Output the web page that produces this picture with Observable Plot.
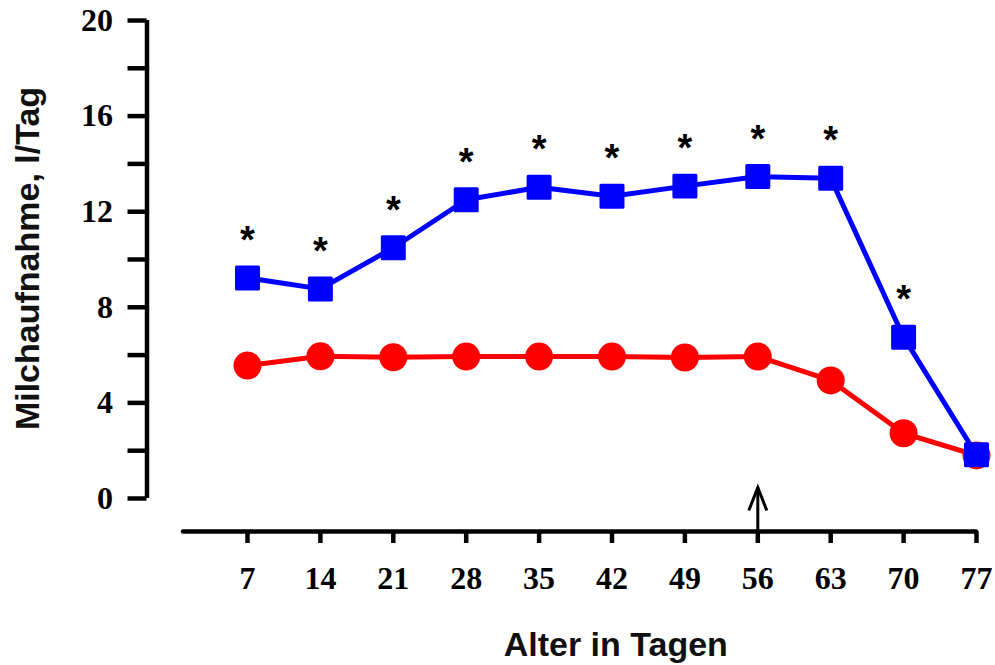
<!DOCTYPE html>
<html>
<head>
<meta charset="utf-8">
<script src="https://cdn.jsdelivr.net/npm/d3@7"></script>
<script src="https://cdn.jsdelivr.net/npm/@observablehq/plot@0.6"></script>
<style>
  html, body { margin: 0; padding: 0; background: #ffffff; }
  #chart svg { display: block; }
</style>
</head>
<body>
<div id="chart"></div>
<script>
// ---- data ----
const days = [7, 14, 21, 28, 35, 42, 49, 56, 63, 70, 77];
const blueValues = [9.23, 8.77, 10.49, 12.5, 13.02, 12.65, 13.07, 13.47, 13.4, 6.75, 1.83];
const redValues = [5.56, 5.95, 5.91, 5.94, 5.94, 5.94, 5.9, 5.94, 4.94, 2.73, 1.8];
const significantDays = [7, 14, 21, 28, 35, 42, 49, 56, 63, 70];
const arrowDays = [56];
const yTicks = [0, 2, 4, 6, 8, 10, 12, 14, 16, 18, 20];
const yLabeledTicks = [0, 4, 8, 12, 16, 20];
const xLabel = "Alter in Tagen";
const yLabel = "Milchaufnahme, l/Tag";

// ---- tables ----
const blue = days.map((d, i) => ({day: d, value: blueValues[i]}));
const red = days.map((d, i) => ({day: d, value: redValues[i]}));
const stars = blue.filter(d => significantDays.includes(d.day));

// layout constants (axis placement)
const X0 = -2.65;     // position of y-axis line in day units
const YMIN = -1.381;  // detached x-axis position below zero
const XLINE_START = 0.855;
const ARROW_TOP = 0.46;

const serif = "'Liberation Serif', 'Times New Roman', serif";
const sans = "'Liberation Sans', Arial, sans-serif";

// open chevron arrowhead symbol (tip at origin)
const chevron = {
  draw(context, size) {
    const r = Math.sqrt(size / Math.PI);
    const w = r * 9 / 23;
    context.moveTo(-w, r);
    context.lineTo(0, 0);
    context.lineTo(w, r);
  }
};

const chart = Plot.plot({
  width: 995,
  height: 665,
  marginLeft: 146.5,
  marginRight: 19,
  marginTop: 20,
  marginBottom: 134,
  x: {domain: [X0, 77], label: null},
  y: {domain: [YMIN, 20], label: null},
  style: {background: "#ffffff", overflow: "visible", color: "black"},
  marks: [
    // y axis line
    Plot.ruleX([X0], {y1: 0, y2: 20, strokeWidth: 4.5, stroke: "black"}),
    Plot.axisY(yTicks, {
      tickSize: 19, tickPadding: 15, strokeWidth: 4.5,
      tickFormat: d => yLabeledTicks.includes(d) ? String(d) : "",
      fontSize: 32, fontWeight: "bold", fontFamily: serif, label: null
    }),
    // x axis line (detached)
    Plot.ruleY([YMIN], {x1: XLINE_START, x2: 77, strokeWidth: 4.5, stroke: "black", strokeLinecap: "round"}),
    Plot.axisX(days, {
      tickSize: 12, tickPadding: 23, strokeWidth: 4.5,
      fontSize: 32, fontWeight: "bold", fontFamily: serif, label: null
    }),
    // arrow at weaning day
    Plot.ruleX(arrowDays, {x: d => d, y1: YMIN, y2: ARROW_TOP, strokeWidth: 3, stroke: "black"}),
    Plot.dot(arrowDays, {x: d => d, y: () => ARROW_TOP, symbol: chevron, r: 23, fill: "none", stroke: "black", strokeWidth: 3, strokeLinejoin: "miter"}),
    // red series
    Plot.line(red, {x: "day", y: "value", stroke: "#ff0000", strokeWidth: 5}),
    Plot.dot(red, {x: "day", y: "value", r: 14, fill: "#ff0000", stroke: "none"}),
    // blue series
    Plot.line(blue, {x: "day", y: "value", stroke: "#0000ff", strokeWidth: 5}),
    Plot.dot(blue, {x: "day", y: "value", symbol: "square", r: 12.4, fill: "#0000ff", stroke: "#0000ff", strokeWidth: 3, strokeLinejoin: "round"}),
    // significance stars
    Plot.text(stars, {x: "day", y: "value", text: () => "*", dy: -25, lineAnchor: "bottom", fontSize: 38, fontWeight: "bold", fontFamily: sans, fill: "black"}),
    // axis titles
    Plot.text([xLabel], {frameAnchor: "bottom", text: d => d, textAnchor: "middle", dx: 54, dy: 124, lineAnchor: "bottom", fontSize: 34, fontWeight: "bold", fontFamily: sans, fill: "#111"}),
    Plot.text([yLabel], {frameAnchor: "left", text: d => d, textAnchor: "middle", rotate: -90, dx: -108.5, dy: -17.5, lineAnchor: "bottom", fontSize: 34, fontWeight: "bold", fontFamily: sans, fill: "#111"})
  ]
});

document.getElementById("chart").appendChild(chart);
</script>
</body>
</html>
